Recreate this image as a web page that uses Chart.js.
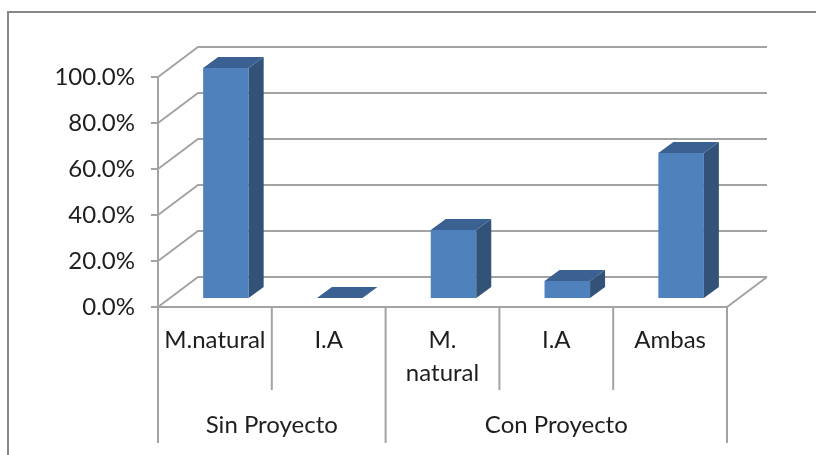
<!DOCTYPE html>
<html>
<head>
<meta charset="utf-8">
<script src="https://cdn.jsdelivr.net/npm/chart.js@4.4.1/dist/chart.umd.min.js"></script>
<style>
  html, body { margin: 0; padding: 0; background: #fff; }
</style>
</head>
<body>
<canvas id="grafico" width="816" height="455"></canvas>
<script>
// Dados
const categorias = ['M.natural', 'I.A', ['M.', 'natural'], 'I.A', 'Ambas'];
const grupos = ['Sin Proyecto', 'Con Proyecto'];
const gruposTamanho = [2, 3];
const valores = [1.0, 0, 0.296, 0.074, 0.63];
const ticksY = [0, 0.2, 0.4, 0.6, 0.8, 1.0];

// Cores e fonte
const COR_FRENTE = '#4f81bd';
const COR_LADO = '#325278';
const COR_TOPO = '#3b6192';
const COR_GRADE = '#a3a3a3';
const COR_TEXTO = '#1e1e1e';
const FONTE = { family: 'Lato', size: 24, lineHeight: 1.38 };

// Deslocamentos do efeito 3D (relativos ao plano das barras)
const FRENTE = { dx: -11, dy: 9 };
const FUNDO = { dx: 29, dy: -21 };
const PROF = { dx: 15, dy: -11 };

// Paredes, piso, eixos e rótulos de grupo
const cena3d = {
    id: 'cena3d',
    beforeDraw(chart) {
        const { ctx, chartArea: a, scales: { x, y } } = chart;
        ctx.save();

        // moldura do gráfico
        ctx.strokeStyle = '#878787';
        ctx.lineWidth = 2;
        ctx.strokeRect(8, 12, 900, 500);

        // linhas de grade: parede lateral + parede do fundo
        ctx.strokeStyle = COR_GRADE;
        ctx.lineWidth = 2;
        ticksY.forEach(v => {
            const py = y.getPixelForValue(v);
            ctx.beginPath();
            ctx.moveTo(a.left + FRENTE.dx, py + FRENTE.dy);
            ctx.lineTo(a.left + FUNDO.dx, py + FUNDO.dy);
            ctx.lineTo(a.right + FUNDO.dx, py + FUNDO.dy);
            ctx.stroke();
        });

        // piso: borda da frente e lado direito
        const y0 = y.getPixelForValue(0);
        ctx.beginPath();
        ctx.moveTo(a.left + FRENTE.dx - 7, y0 + FRENTE.dy);
        ctx.lineTo(a.right + FRENTE.dx, y0 + FRENTE.dy);
        ctx.lineTo(a.right + FUNDO.dx, y0 + FUNDO.dy);
        ctx.stroke();

        // eixo Y da frente com marcas
        const topoY = y.getPixelForValue(ticksY[ticksY.length - 1]);
        ctx.beginPath();
        ctx.moveTo(a.left + FRENTE.dx, topoY + FRENTE.dy);
        ctx.lineTo(a.left + FRENTE.dx, a.bottom + 145);
        ticksY.forEach(v => {
            const py = y.getPixelForValue(v) + FRENTE.dy;
            ctx.moveTo(a.left + FRENTE.dx - 7, py);
            ctx.lineTo(a.left + FRENTE.dx, py);
        });
        ctx.stroke();

        // divisórias das categorias (as de grupo descem mais)
        const limites = [0];
        gruposTamanho.reduce((s, n) => { limites.push(s + n); return s + n; }, 0);
        for (let i = 1; i <= categorias.length; i++) {
            const px = x.getPixelForValue(i - 0.5) + FRENTE.dx;
            const fim = limites.includes(i) ? a.bottom + 145 : a.bottom + 92;
            ctx.beginPath();
            ctx.moveTo(px, y0 + FRENTE.dy);
            ctx.lineTo(px, fim);
            ctx.stroke();
        }

        // rótulos de grupo
        ctx.fillStyle = COR_TEXTO;
        ctx.font = `${FONTE.size}px ${FONTE.family}`;
        ctx.textAlign = 'center';
        ctx.textBaseline = 'middle';
        grupos.forEach((g, k) => {
            const x1 = x.getPixelForValue(limites[k] - 0.5) + FRENTE.dx;
            const x2 = x.getPixelForValue(limites[k + 1] - 0.5) + FRENTE.dx;
            ctx.fillText(g, (x1 + x2) / 2, a.bottom + 127);
        });
        ctx.restore();
    },
    afterDatasetsDraw(chart) {
        const { ctx } = chart;
        const meta = chart.getDatasetMeta(0);
        ctx.save();
        meta.data.forEach(bar => {
            const { x: cx, y: topo, base, width } = bar.getProps(['x', 'y', 'base', 'width'], true);
            const l = cx - width / 2, r = cx + width / 2;
            // face lateral
            ctx.fillStyle = COR_LADO;
            ctx.beginPath();
            ctx.moveTo(r, topo);
            ctx.lineTo(r + PROF.dx, topo + PROF.dy);
            ctx.lineTo(r + PROF.dx, base + PROF.dy);
            ctx.lineTo(r, base);
            ctx.closePath();
            ctx.fill();
            // face de cima
            ctx.fillStyle = COR_TOPO;
            ctx.beginPath();
            ctx.moveTo(l, topo);
            ctx.lineTo(l + PROF.dx, topo + PROF.dy);
            ctx.lineTo(r + PROF.dx, topo + PROF.dy);
            ctx.lineTo(r, topo);
            ctx.closePath();
            ctx.fill();
        });
        ctx.restore();
    }
};

const ctx = document.getElementById('grafico').getContext('2d');
const chart = new Chart(ctx, {
    type: 'bar',
    data: {
        labels: categorias,
        datasets: [{
            data: valores,
            backgroundColor: COR_FRENTE,
            borderWidth: 0,
            categoryPercentage: 1,
            barPercentage: 0.4
        }]
    },
    options: {
        responsive: false,
        animation: false,
        devicePixelRatio: 1,
        layout: { padding: { top: 68, right: 78, bottom: 0, left: 0 } },
        scales: {
            x: {
                grid: { display: false, drawTicks: false },
                border: { display: false },
                ticks: {
                    font: FONTE, color: COR_TEXTO, padding: 26,
                    labelOffset: FRENTE.dx, maxRotation: 0, autoSkip: false
                },
                afterFit: s => { s.height = 157; }
            },
            y: {
                min: 0, max: 1,
                grid: { display: false, drawTicks: false },
                border: { display: false },
                ticks: {
                    stepSize: 0.2, font: FONTE, color: COR_TEXTO, padding: 34,
                    labelOffset: FRENTE.dy,
                    callback: v => (v * 100).toFixed(1) + '%'
                },
                afterFit: s => { s.width = 169; }
            }
        },
        plugins: { legend: { display: false }, tooltip: { enabled: false } }
    },
    plugins: [cena3d]
});
</script>
</body>
</html>
